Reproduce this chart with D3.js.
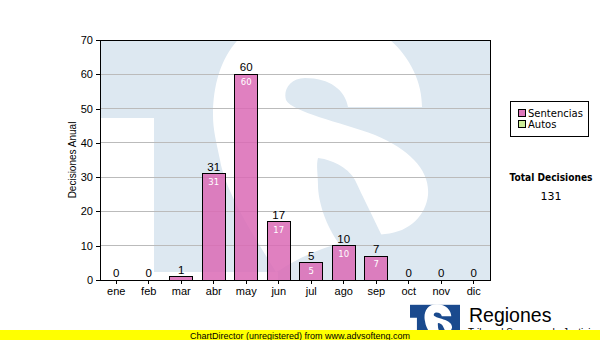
<!DOCTYPE html>
<html><head><meta charset="utf-8">
<script src="https://cdn.jsdelivr.net/npm/d3@7"></script>
<style>body{margin:0;background:#fff}svg{display:block}</style>
</head><body>
<svg id="c" width="600" height="340"></svg>
<script>
const months = ["ene","feb","mar","abr","may","jun","jul","ago","sep","oct","nov","dic"];
const sentencias = [0,0,1,31,60,17,5,10,7,0,0,0];
const yTicks = [0,10,20,30,40,50,60,70];
const legendItems = ["Sentencias","Autos"];
const legendColors = ["#dd77bb","#ccee99"];
const totalLabel = "Total Decisiones";
const totalValue = 131;
const yTitle = "Decisiones Anual";
const footer = "ChartDirector (unregistered) from www.advsofteng.com";

const svg = d3.select("#c");
const L = 100, R = 490, T = 40, B = 280;
const x = d3.scaleBand().domain(months).range([L, R]).paddingInner(0.3).paddingOuter(0.15);
const y = d3.scaleLinear().domain([0, 70]).range([B, T]);

// watermark logo (TS) in plot background
const defs = svg.append("defs");
defs.append("clipPath").attr("id","pc").append("rect").attr("x",L).attr("y",T).attr("width",R-L).attr("height",B-T);
const sPath = "M422,107 L348,107 C345,90 330,78 305,78 C290,78 283,90 286,100 C292,112 340,122 375,135 C410,150 430,170 428,195 C426,215 410,232 385,234 C350,238 310,250 280,270 L276,272 C250,230 225,190 220,160 C216,140 213,130 213,115 C213,60 240,12 310,12 C380,12 422,60 422,107 Z";
const leafPath = "M318,158 C335,160 350,170 355,180 C362,195 372,215 382,236 L340,245 C325,225 318,200 318,185 C318,175 316,165 318,158 Z";
function drawLogo(g, fill) {
  g.append("rect").attr("x",100).attr("y",17).attr("width",390).attr("height",263).attr("fill",fill);
  g.append("rect").attr("x",100).attr("y",118).attr("width",54).attr("height",162).attr("fill","#fff");
  g.append("rect").attr("x",154).attr("y",272).attr("width",124).attr("height",8).attr("fill","#fff");
  g.append("path").attr("d",sPath).attr("fill","#fff");
  g.append("path").attr("d",leafPath).attr("fill",fill);
}
const wm = svg.append("g").attr("clip-path","url(#pc)");
wm.append("rect").attr("x",L).attr("y",T).attr("width",R-L).attr("height",B-T).attr("fill","#fff");
drawLogo(wm, "#dde8f1");

// grid
svg.append("g").selectAll("line").data(yTicks.filter(d=>d>0&&d<70)).join("line")
  .attr("x1",L).attr("x2",R).attr("y1",d=>y(d)).attr("y2",d=>y(d))
  .attr("stroke","#bbbbbb").attr("stroke-width",1).attr("shape-rendering","crispEdges");

// bars
svg.append("g").selectAll("rect").data(months).join("rect")
  .attr("x",d=>x(d)).attr("width",x.bandwidth())
  .attr("y",(d,i)=>y(sentencias[i])).attr("height",(d,i)=>B-y(sentencias[i]))
  .attr("fill","#db6ab5").attr("fill-opacity",0.85)
  .attr("stroke","#000").attr("stroke-width",1).attr("shape-rendering","crispEdges");

// value labels
svg.append("g").selectAll("text").data(months).join("text")
  .attr("x",d=>x(d)+x.bandwidth()/2).attr("y",(d,i)=>y(sentencias[i])-3)
  .attr("text-anchor","middle").attr("font-family","Liberation Sans, Arial").attr("font-size",11.5)
  .attr("fill","#000").text((d,i)=>sentencias[i]);
svg.append("g").selectAll("text").data(months.filter((d,i)=>sentencias[i]>=5)).join("text")
  .attr("x",d=>x(d)+x.bandwidth()/2).attr("y",d=>y(sentencias[months.indexOf(d)])+11)
  .attr("text-anchor","middle").attr("font-family","DejaVu Sans, Verdana").attr("font-size",8.5)
  .attr("fill","#fff").text(d=>sentencias[months.indexOf(d)]);

// frame
svg.append("rect").attr("x",L).attr("y",T).attr("width",R-L).attr("height",B-T)
  .attr("fill","none").attr("stroke","#000").attr("stroke-width",1).attr("shape-rendering","crispEdges");

// axes
const ya = svg.append("g").attr("transform",`translate(${L},0)`)
  .call(d3.axisLeft(y).tickValues(yTicks).tickSize(4).tickPadding(3));
const xa = svg.append("g").attr("transform",`translate(0,${B})`)
  .call(d3.axisBottom(x).tickSize(4).tickPadding(3));
[ya,xa].forEach(a=>{
  a.select(".domain").remove();
  a.selectAll("line").attr("stroke","#000").attr("shape-rendering","crispEdges");
  a.selectAll("text").attr("font-family","Liberation Sans, Arial").attr("font-size",11).attr("fill","#000");
});

svg.append("text").attr("transform","translate(76,160) rotate(-90)").attr("text-anchor","middle")
  .attr("font-family","Liberation Sans, Arial").attr("font-size",10).text(yTitle);

// legend
svg.append("rect").attr("x",510.5).attr("y",101.5).attr("width",78).attr("height",35)
  .attr("fill","#fff").attr("stroke","#000");
const lg = svg.append("g").selectAll("g").data(legendItems).join("g")
  .attr("transform",(d,i)=>`translate(518,${109+i*11})`);
lg.append("rect").attr("x",0.5).attr("y",0.5).attr("width",7).attr("height",7)
  .attr("fill",(d,i)=>legendColors[i]).attr("stroke","#000");
lg.append("text").attr("x",10).attr("y",8).attr("font-family","DejaVu Sans, Verdana").attr("font-size",10).text(d=>d);

svg.append("text").attr("x",551).attr("y",181).attr("text-anchor","middle")
  .attr("font-family","DejaVu Sans, Verdana").attr("font-weight","bold").attr("font-size",10)
  .attr("textLength",83).attr("lengthAdjust","spacingAndGlyphs").text(totalLabel);
svg.append("text").attr("x",551).attr("y",200).attr("text-anchor","middle")
  .attr("font-family","DejaVu Sans, Verdana").attr("font-size",11).text(totalValue);

// bottom logo
const lgo = svg.append("g").attr("transform","translate(410,304.8) scale(0.1282)");
const lgi = lgo.append("g").attr("transform","translate(-100,-17)");
drawLogo(lgi, "#1a4a8e");
svg.append("text").attr("x",469).attr("y",322).attr("font-family","Liberation Sans, Arial").attr("font-size",19.5).text("Regiones");
svg.append("text").attr("x",468).attr("y",336).attr("font-family","Liberation Sans, Arial").attr("font-size",10)
  .attr("textLength",128).attr("lengthAdjust","spacingAndGlyphs").text("Tribunal Supremo de Justicia");

// footer
svg.append("rect").attr("x",0).attr("y",330).attr("width",600).attr("height",10).attr("fill","#ffff00");
svg.append("text").attr("x",190).attr("y",338.5).attr("font-family","Liberation Sans, Arial").attr("font-size",9.5)
  .attr("textLength",220).attr("lengthAdjust","spacingAndGlyphs").text(footer);
</script>
</body></html>
